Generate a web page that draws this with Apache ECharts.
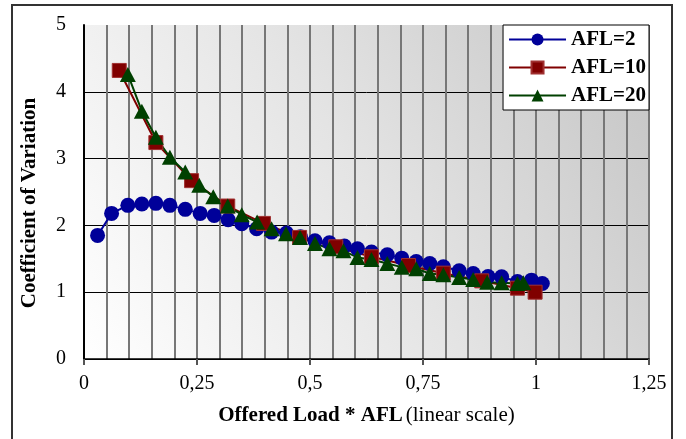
<!DOCTYPE html>
<html>
<head>
<meta charset="utf-8">
<script src="https://cdn.jsdelivr.net/npm/echarts@6/dist/echarts.min.js"></script>
<style>
html, body { margin: 0; padding: 0; background: #fff; }
#chart { width: 686px; height: 439px; }
</style>
</head>
<body>
<div id="chart"></div>
<script>
// values
var afl2X = [0.030, 0.061, 0.097, 0.128, 0.159, 0.190, 0.224, 0.257, 0.288, 0.319, 0.349, 0.382, 0.415, 0.448, 0.479, 0.511,
	0.543, 0.576, 0.605, 0.636, 0.671, 0.703, 0.735, 0.765, 0.795, 0.830, 0.861, 0.894, 0.924, 0.959, 0.990, 1.014];
var afl2Y = [1.85, 2.18, 2.30, 2.32, 2.33, 2.30, 2.24, 2.18, 2.15, 2.085, 2.025, 1.95, 1.90, 1.885, 1.83, 1.77,
	1.74, 1.69, 1.65, 1.60, 1.56, 1.51, 1.46, 1.43, 1.38, 1.32, 1.28, 1.235, 1.23, 1.16, 1.18, 1.13];

var afl10X = [0.078, 0.159, 0.238, 0.318, 0.397, 0.477, 0.557, 0.636, 0.718, 0.795, 0.880, 0.959, 0.998];
var afl10Y = [4.32, 3.24, 2.67, 2.29, 2.03, 1.82, 1.68, 1.53, 1.40, 1.285, 1.17, 1.06, 1.00];

var afl20X = [0.097, 0.128, 0.159, 0.190, 0.224, 0.255, 0.286, 0.318, 0.349, 0.383, 0.415, 0.447, 0.478, 0.511, 0.543,
	0.574, 0.605, 0.636, 0.671, 0.703, 0.735, 0.765, 0.795, 0.830, 0.861, 0.892, 0.924, 0.959, 0.972];
var afl20Y = [4.26, 3.71, 3.32, 3.02, 2.80, 2.60, 2.43, 2.29, 2.16, 2.05, 1.95, 1.875, 1.82, 1.73, 1.65,
	1.62, 1.52, 1.49, 1.43, 1.375, 1.35, 1.28, 1.26, 1.22, 1.19, 1.15, 1.14, 1.13, 1.14];

var seriesNames = ['AFL=2', 'AFL=10', 'AFL=20'];
var xTicks = [0, 0.25, 0.5, 0.75, 1, 1.25];
var yTicks = [0, 1, 2, 3, 4, 5];

function pairs(xs, ys) {
	var out = [];
	for (var i = 0; i < xs.length; i++) {
		out.push([xs[i], ys[i]]);
	}
	return out;
}

var serif = '"Liberation Serif", "DejaVu Serif", serif';

function created() {
	var mainChart = echarts.init(document.getElementById('chart'));

	var chartOption = {
		animation: false,
		backgroundColor: '#fff',
		textStyle: { fontFamily: serif },
		graphic: [{
			type: 'rect',
			shape: { x: 12, y: 5, width: 660, height: 450 },
			style: { fill: 'none', stroke: '#333', lineWidth: 2 },
			z: 100
		}],
		grid: {
			left: 84,
			right: 37,
			top: 25,
			bottom: 80,
			show: true,
			borderWidth: 0,
			backgroundColor: new echarts.graphic.LinearGradient(0, 1, 1, 0, [
				{ offset: 0, color: '#ffffff' },
				{ offset: 0.5, color: '#e4e4e4' },
				{ offset: 1, color: '#c4c4c4' }
			])
		},
		legend: {
			data: seriesNames,
			orient: 'vertical',
			right: 37,
			top: 25,
			itemWidth: 57,
			itemHeight: 15,
			itemGap: 7,
			padding: [4, 3, 4, 5],
			backgroundColor: '#fff',
			borderColor: '#000',
			borderWidth: 1,
			borderRadius: 0,
			selectedMode: false,
			textStyle: {
				fontFamily: serif,
				fontWeight: 'bold',
				fontSize: 21,
				lineHeight: 18,
				color: '#000'
			}
		},
		xAxis: {
			type: 'value',
			min: xTicks[0],
			max: xTicks[xTicks.length - 1],
			interval: 0.25,
			minorTick: { show: false, splitNumber: 5 },
			minorSplitLine: { show: true, lineStyle: { color: '#777', width: 2 } },
			splitLine: { show: true, lineStyle: { color: '#777', width: 2 } },
			axisLine: { show: true, onZero: false, lineStyle: { color: '#000', width: 1.5 } },
			axisTick: { show: true, length: 6, lineStyle: { color: '#555', width: 2 } },
			axisLabel: {
				margin: 15,
				fontSize: 20,
				fontFamily: serif,
				color: '#000',
				formatter: function (val) {
					return String(val).replace('.', ',');
				}
			},
			name: '{b|Offered Load * AFL} {r|(linear scale)}',
			nameLocation: 'middle',
			nameGap: 46,
			nameTextStyle: {
				rich: {
					b: { fontFamily: serif, fontWeight: 'bold', fontSize: 21, color: '#000' },
					r: { fontFamily: serif, fontSize: 21, color: '#000' }
				}
			}
		},
		yAxis: {
			type: 'value',
			min: yTicks[0],
			max: yTicks[yTicks.length - 1],
			interval: 1,
			splitLine: {
				show: true,
				lineStyle: { color: ['#000', '#000', '#000', '#000', '#000', 'rgba(0,0,0,0)'], width: 1 }
			},
			axisLine: { show: true, lineStyle: { color: '#000', width: 2 } },
			axisTick: { show: false },
			axisLabel: {
				margin: 18,
				fontSize: 20,
				fontFamily: serif,
				color: '#000'
			},
			name: 'Coefficient of Variation',
			nameLocation: 'middle',
			nameGap: 44,
			nameTextStyle: {
				fontFamily: serif,
				fontWeight: 'bold',
				fontSize: 21,
				color: '#000',
				padding: [0, 22, 0, 0]
			}
		},
		series: [{
				name: seriesNames[0],
				type: 'line',
				data: pairs(afl2X, afl2Y),
				symbol: 'circle',
				symbolSize: 15,
				lineStyle: { color: '#000099', width: 2 },
				itemStyle: { color: '#000099', borderColor: '#000099', borderWidth: 0 }
			}, {
				name: seriesNames[1],
				type: 'line',
				data: pairs(afl10X, afl10Y),
				symbol: 'rect',
				symbolSize: 14,
				lineStyle: { color: '#800000', width: 2 },
				itemStyle: { color: '#800000', borderColor: '#a03030', borderWidth: 1 }
			}, {
				name: seriesNames[2],
				type: 'line',
				data: pairs(afl20X, afl20Y),
				symbol: 'triangle',
				symbolSize: [16, 15],
				lineStyle: { color: '#004000', width: 2 },
				itemStyle: { color: '#004000', borderColor: '#004000', borderWidth: 0 }
			}
		]
	};

	mainChart.setOption(chartOption);
}

created();
</script>
</body>
</html>
